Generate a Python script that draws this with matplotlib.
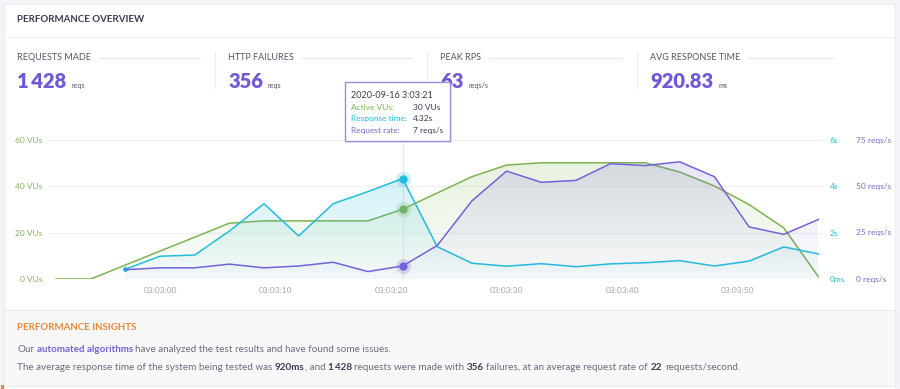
import matplotlib
matplotlib.use('Agg')
import matplotlib.pyplot as plt
import numpy as np
from matplotlib.colors import to_rgb
from matplotlib.patches import Rectangle

plt.rcParams['font.family'] = ['Lato', 'DejaVu Sans']

# ---- data (seconds after 03:03:00) ----
t_vus = [-9, -6, -3, 0, 3, 6, 9, 12, 15, 18, 21, 24, 27, 30, 33, 36, 39, 42, 45, 48, 51, 54, 57]
vus = [0, 0, 6, 12, 18, 24, 25, 25, 25, 25, 30, 37, 44, 49, 50, 50, 50, 50, 46, 40, 32, 22, 1]
t_req = [-3, 0, 3, 6, 9, 12, 15, 18, 21, 24, 27, 30, 33, 36, 39, 42, 45, 48, 51, 54, 57]
resp_time = [0.42, 0.98, 1.03, 2.06, 3.24, 1.85, 3.24, 3.76, 4.32, 1.39, 0.68, 0.55, 0.66,
             0.53, 0.65, 0.70, 0.79, 0.56, 0.77, 1.38, 1.08]
req_rate = [5, 6, 6, 8, 6, 7, 9, 4, 7, 18, 42, 58, 52, 53, 62, 61, 63, 55, 28, 24, 32]

xticks = [0, 10, 20, 30, 40, 50]
xtick_labels = ['03:03:00', '03:03:10', '03:03:20', '03:03:30', '03:03:40', '03:03:50']
vu_ticks = [0, 20, 40, 60]
vu_labels = ['0 VUs', '20 VUs', '40 VUs', '60 VUs']
rt_ticks = [0, 2, 4, 6]
rt_labels = ['0ms', '2s', '4s', '6s']
rr_ticks = [0, 25, 50, 75]
rr_labels = ['0 reqs/s', '25 reqs/s', '50 reqs/s', '75 reqs/s']

stat_names = ['REQUESTS MADE', 'HTTP FAILURES', 'PEAK RPS', 'AVG RESPONSE TIME']
stat_values = ['1\u2009428', '356', '63', '920.83']
stat_units = ['reqs', 'reqs', 'reqs/s', 'ms']

hover_t = 21
hover_stamp = '2020-09-16 3:03:21'

GREEN = '#7db451'
CYAN = '#23bddb'
PURPLE = '#7462d8'
W, H = 900, 389


def fx(x):
    return x / W


def fy(y):
    return 1 - y / H


def grad_fill(ax, x, y, color, a_top, a_bot, z):
    x = np.asarray(x, float)
    y = np.asarray(y, float)
    poly = ax.fill_between(x, y, 0, facecolor='none', edgecolor='none')
    arr = np.zeros((256, 1, 4))
    arr[:, 0, :3] = to_rgb(color)
    arr[:, 0, 3] = np.linspace(a_top, a_bot, 256)
    im = ax.imshow(arr, extent=[x.min(), x.max(), 0, y.max()], aspect='auto',
                   origin='upper', zorder=z, interpolation='bilinear')
    im.set_clip_path(poly.get_paths()[0], ax.transData)


def advance(fig, s, size, weight):
    # width incl. spaces and bearings, measured between two bars
    r = fig.canvas.get_renderer()
    a = fig.text(0, 0, '|' + s + '|', fontsize=size, fontweight=weight)
    b = fig.text(0, 0, '||', fontsize=size, fontweight=weight)
    w = a.get_window_extent(r).width - b.get_window_extent(r).width
    a.remove(); b.remove()
    return w


def rich(fig, x, y, parts, size):
    for s, color, weight in parts:
        lead = s[:len(s) - len(s.lstrip(' '))]
        x += advance(fig, lead, size, weight) if lead else 0
        fig.text(fx(x), fy(y), s.strip(' '), color=color, fontweight=weight,
                 fontsize=size, va='center', ha='left')
        x += advance(fig, s.lstrip(' '), size, weight)


fig = plt.figure(figsize=(9, 3.89), dpi=100, facecolor='#f4f3f8')

# background card
bg = fig.add_axes([0, 0, 1, 1], zorder=0)
bg.set_xlim(0, W); bg.set_ylim(H, 0); bg.axis('off')
bg.add_patch(Rectangle((4, 4), 891, 390, facecolor='white', edgecolor='#ececf1', lw=0.8))
bg.add_patch(Rectangle((4, 310), 891, 76, facecolor='#f8f8f9', edgecolor='#ececf0', lw=0.8))
bg.plot([4, 895], [37, 37], color='#efeff3', lw=0.8)
bg.add_patch(Rectangle((1, 385), 3, 4, facecolor='#e8893a', edgecolor='none'))

fig.text(fx(17), fy(20), 'PERFORMANCE OVERVIEW', fontsize=7, fontweight='bold',
         color='#3c3c55', va='center')

col_x = [17, 228, 440, 650]
col_end = [200, 412, 622, 833]
r = fig.canvas.get_renderer()
for i in range(4):
    lab = fig.text(fx(col_x[i]), fy(58), stat_names[i], fontsize=6.5, color='#55556a', va='center')
    bb = lab.get_window_extent(r)
    bg.plot([bb.x1 + 8, col_end[i]], [58, 58], color='#e9e9ee', lw=1.0)
    v = fig.text(fx(col_x[i]), fy(88), stat_values[i], fontsize=14.5, fontweight='heavy',
                 color='#7059d6', va='baseline')
    vb = v.get_window_extent(r)
    fig.text(fx(vb.x1 + 5), fy(88), stat_units[i], fontsize=5.2, color='#55556a', va='baseline')
for sx in [215, 427, 637]:
    bg.plot([sx, sx], [52, 88], color='#ececf1', lw=0.8)

# insights
fig.text(fx(17), fy(328), 'PERFORMANCE INSIGHTS', fontsize=7, fontweight='bold',
         color='#e8893a', va='center')
GREY = '#6b6b7e'
DARK = '#3c3c55'
rich(fig, 17, 350, [('Our ', GREY, 'normal'), ('automated algorithms', PURPLE, 'bold'),
                    (' have analyzed the test results and have found some issues.', GREY, 'normal')], 7.1)
rich(fig, 17, 367, [('The average response time of the system being tested was ', GREY, 'normal'),
                    ('920ms', DARK, 'bold'), (', and ', GREY, 'normal'),
                    ('1\u2009428', DARK, 'bold'), (' requests were made with ', GREY, 'normal'),
                    ('356', DARK, 'bold'),
                    (' failures, at an average request rate of ', GREY, 'normal'),
                    ('22', DARK, 'bold'), (' requests/second.', GREY, 'normal')], 7.1)

# ---- chart ----
pos = [fx(48), fy(279), fx(823) - fx(48), fy(139.5) - fy(279)]
ax = fig.add_axes(pos, zorder=1)
axr = fig.add_axes(pos, zorder=2, sharex=ax)
axq = fig.add_axes(pos, zorder=3, sharex=ax)
for a in (ax, axr, axq):
    a.patch.set_visible(False)
    for s in a.spines.values():
        s.set_visible(False)

xlim = (-9.7, 57.4)

grad_fill(ax, t_vus, vus, GREEN, 0.18, 0.02, 1)
ax.plot(t_vus, vus, color=GREEN, lw=1.1, zorder=3)
ax.set_ylim(0, 60)
ax.set_yticks(vu_ticks, vu_labels)
ax.tick_params(axis='y', length=0, pad=4, labelsize=6, labelcolor='#86b55a')
ax.set_xticks(xticks, xtick_labels)
ax.tick_params(axis='x', length=0, pad=6, labelsize=6, labelcolor='#a3a3b3')
ax.grid(axis='y', color='#f0f0f4', lw=0.8)
ax.set_axisbelow(True)
ax.axhline(0, color='#e2e2e8', lw=0.8, zorder=0)
ax.axvline(hover_t, color='#e6e6ec', lw=0.8, zorder=2)

grad_fill(axr, t_req, resp_time, CYAN, 0.2, 0.03, 1)
axr.plot(t_req, resp_time, color=CYAN, lw=1.1, zorder=3)
axr.set_ylim(0, 6)
axr.yaxis.tick_right()
axr.set_yticks(rt_ticks, rt_labels)
axr.tick_params(axis='y', length=0, pad=5, labelsize=6, labelcolor=CYAN)
axr.tick_params(axis='x', bottom=False, labelbottom=False)

grad_fill(axq, t_req, req_rate, PURPLE, 0.17, 0.02, 1)
axq.plot(t_req, req_rate, color=PURPLE, lw=1.1, zorder=3)
axq.set_ylim(0, 75)
axq.yaxis.tick_right()
axq.set_yticks(rr_ticks, rr_labels)
axq.tick_params(axis='y', length=0, pad=24, labelsize=6, labelcolor='#7a67cf')
axq.tick_params(axis='x', bottom=False, labelbottom=False)

# hover markers
hi = t_vus.index(hover_t)
hj = t_req.index(hover_t)
for a, yv, c in [(ax, vus[hi], GREEN), (axr, resp_time[hj], CYAN), (axq, req_rate[hj], PURPLE)]:
    a.plot([hover_t], [yv], 'o', ms=11, color=c, alpha=0.22, mec='none', zorder=5, clip_on=False)
    a.plot([hover_t], [yv], 'o', ms=6, color=c, mec='none', zorder=6, clip_on=False)
axr.plot([t_req[0]], [resp_time[0]], 'o', ms=2.5, color=CYAN, zorder=4)

ax.set_xlim(*xlim)

# tooltip
top = fig.add_axes([0, 0, 1, 1], zorder=10)
top.set_xlim(0, W); top.set_ylim(H, 0); top.axis('off')
top.add_patch(Rectangle((346.5, 83.5), 105, 59, facecolor='#e8e6f3', edgecolor='none', alpha=0.6))
top.add_patch(Rectangle((345, 82), 105, 59, facecolor='white', edgecolor='#9a8edb', lw=1.0))
top.text(351, 95, hover_stamp, fontsize=6.5, color='#3a3a4a', va='center')
rows = [('Active VUs:', f'{vus[hi]} VUs', '#7fb556'),
        ('Response time:', f'{resp_time[hj]:.2f}s', CYAN),
        ('Request rate:', f'{req_rate[hj]} reqs/s', '#7a67cf')]
for k, (lab, val, c) in enumerate(rows):
    yy = 107 + k * 11.5
    top.text(351, yy, lab, fontsize=6, color=c, va='center')
    top.text(413, yy, val, fontsize=6, color='#3a3a4a', va='center')

fig.savefig('out.png', dpi=100, facecolor=fig.get_facecolor())
